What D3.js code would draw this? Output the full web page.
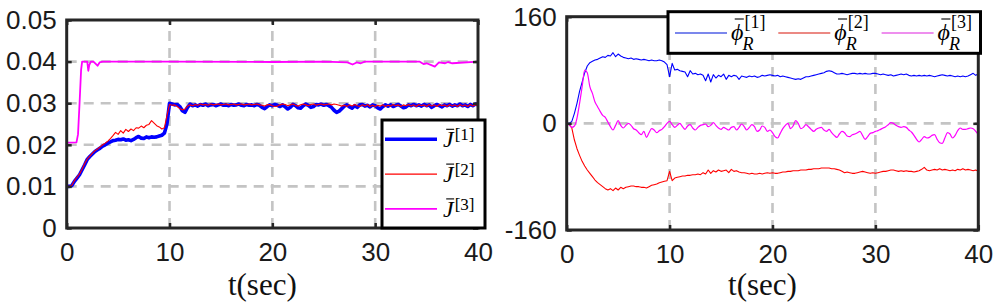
<!DOCTYPE html>
<html>
<head>
<meta charset="utf-8">
<script src="https://cdn.jsdelivr.net/npm/d3@7"></script>
<style>
html, body { margin: 0; padding: 0; background: #fff; }
svg { display: block; }
</style>
</head>
<body>
<svg id="chart" width="997" height="303"></svg>
<script>
// ---- data ----
var xTicks = [0, 10, 20, 30, 40];
var jTicks = [0, 0.01, 0.02, 0.03, 0.04, 0.05];
var phiTicks = [-160, 0, 160];
var seriesIdx = ["1", "2", "3"];
var duration = 40; // sec, uniform series below are sampled every 0.25 s

var J1 = [
    0.0100,0.0100,0.0102,0.0112,0.0120,0.0128,0.0140,0.0152,
    0.0165,0.0172,0.0178,0.0184,0.0188,0.0192,0.0197,0.0200,
    0.0204,0.0207,0.0210,0.0211,0.0213,0.0212,0.0214,0.0211,
    0.0212,0.0210,0.0213,0.0217,0.0220,0.0216,0.0215,0.0219,
    0.0217,0.0219,0.0218,0.0219,0.0221,0.0223,0.0228,0.0250,
    0.0300,0.0298,0.0296,0.0297,0.0292,0.0282,0.0278,0.0290,
    0.0298,0.0294,0.0296,0.0293,0.0297,0.0295,0.0298,0.0294,
    0.0296,0.0297,0.0294,0.0296,0.0298,0.0295,0.0296,0.0294,
    0.0297,0.0295,0.0296,0.0298,0.0295,0.0294,0.0297,0.0295,
    0.0296,0.0294,0.0297,0.0295,0.0290,0.0287,0.0292,0.0296,
    0.0294,0.0297,0.0295,0.0292,0.0296,0.0291,0.0286,0.0290,
    0.0297,0.0294,0.0289,0.0288,0.0294,0.0298,0.0295,0.0290,
    0.0292,0.0297,0.0296,0.0298,0.0295,0.0297,0.0294,0.0290,
    0.0283,0.0278,0.0281,0.0287,0.0293,0.0296,0.0291,0.0288,
    0.0294,0.0290,0.0296,0.0297,0.0293,0.0295,0.0291,0.0296,
    0.0294,0.0289,0.0286,0.0292,0.0296,0.0293,0.0296,0.0292,
    0.0295,0.0297,0.0293,0.0289,0.0291,0.0296,0.0294,0.0297,
    0.0294,0.0296,0.0293,0.0297,0.0294,0.0296,0.0290,0.0294,
    0.0297,0.0294,0.0291,0.0296,0.0294,0.0297,0.0293,0.0296,
    0.0294,0.0298,0.0294,0.0296,0.0292,0.0297,0.0294,0.0298,
    0.0296
];
var J2 = [
    0.0100,0.0100,0.0103,0.0114,0.0122,0.0130,0.0142,0.0155,
    0.0166,0.0173,0.0180,0.0186,0.0190,0.0195,0.0200,0.0204,
    0.0209,0.0215,0.0222,0.0230,0.0225,0.0234,0.0228,0.0237,
    0.0232,0.0238,0.0234,0.0241,0.0240,0.0245,0.0241,0.0247,
    0.0249,0.0258,0.0252,0.0246,0.0243,0.0238,0.0241,0.0270,
    0.0297,0.0295,0.0296,0.0292,0.0287,0.0284,0.0286,0.0293,
    0.0296,0.0294,0.0297,0.0295,0.0298,0.0296,0.0297,0.0295,
    0.0298,0.0296,0.0297,0.0298,0.0296,0.0297,0.0298,0.0296,
    0.0297,0.0298,0.0296,0.0297,0.0298,0.0296,0.0297,0.0298,
    0.0296,0.0297,0.0298,0.0296,0.0295,0.0293,0.0296,0.0297,
    0.0294,0.0292,0.0293,0.0296,0.0298,0.0297,0.0294,0.0296,
    0.0298,0.0295,0.0293,0.0296,0.0298,0.0296,0.0294,0.0297,
    0.0298,0.0295,0.0297,0.0298,0.0296,0.0297,0.0298,0.0296,
    0.0298,0.0297,0.0295,0.0293,0.0295,0.0292,0.0296,0.0293,
    0.0297,0.0294,0.0292,0.0296,0.0293,0.0297,0.0292,0.0295,
    0.0292,0.0295,0.0293,0.0296,0.0292,0.0295,0.0293,0.0297,
    0.0294,0.0296,0.0292,0.0296,0.0294,0.0297,0.0293,0.0296,
    0.0292,0.0297,0.0294,0.0296,0.0292,0.0297,0.0293,0.0296,
    0.0292,0.0297,0.0294,0.0296,0.0292,0.0297,0.0293,0.0296,
    0.0292,0.0297,0.0293,0.0296,0.0292,0.0297,0.0293,0.0296,
    0.0293
];
var tJ3 = [0, 0.95, 1.1, 1.25, 1.4, 1.5, 2.0, 2.1, 2.2, 2.35, 2.6, 2.85, 3.0, 3.2, 3.5, 10, 20, 25, 27.3, 27.8, 28.2, 28.6, 29, 34.3, 34.7, 35.0, 35.4, 35.8, 36.2, 36.8, 37.1, 37.5, 40];
var J3 = [0.0205, 0.0206, 0.0225, 0.030, 0.038, 0.0400, 0.0400, 0.0378, 0.0392, 0.0400, 0.0400, 0.0394, 0.0390, 0.0398, 0.0400, 0.0400, 0.0399, 0.0400, 0.0398, 0.0393, 0.0398, 0.0396, 0.0400, 0.0400, 0.0394, 0.0396, 0.0392, 0.0388, 0.0398, 0.0396, 0.0399, 0.0396, 0.0400];

var phi1 = [
    0,0,3,15,30,48,62,76,
    86,91,93,95,96,98,100,99,
    102,101,106,100,104,101,99,98,
    97,98,96,97,96,95,96,95,
    94,95,94,94,95,94,92,88,
    70,90,80,81,79,78,77,70,
    79,74,75,73,74,72,64,74,
    62,73,68,72,70,74,66,72,
    70,72,71,66,71,70,69,71,
    70,71,69,70,72,71,72,73,
    72,71,72,70,71,70,69,68,
    67,66,67,66,68,70,70,71,
    72,73,74,75,76,78,79,78,
    76,74,74,75,74,73,74,75,
    75,74,75,74,75,74,74,75,
    75,74,73,74,73,72,73,71,
    72,73,74,73,74,72,71,72,
    71,72,71,72,71,72,71,70,
    71,72,73,72,71,72,71,70,
    71,70,71,70,71,73,75,72,
    74
];
var phi2 = [
    0,-2,-7,-25,-38,-48,-57,-64,
    -70,-75,-80,-85,-89,-92,-95,-98,
    -100,-98,-101,-97,-100,-96,-98,-96,
    -95,-94,-94,-95,-95,-96,-96,-97,
    -95,-93,-92,-91,-89,-88,-87,-86,
    -72,-86,-82,-81,-80,-79,-79,-78,
    -78,-77,-77,-76,-77,-74,-76,-70,
    -75,-71,-73,-70,-72,-71,-70,-74,
    -69,-72,-71,-73,-74,-74,-75,-76,
    -75,-76,-76,-75,-76,-75,-74,-75,
    -74,-75,-75,-74,-73,-73,-72,-72,
    -71,-71,-71,-70,-70,-70,-69,-69,
    -68,-68,-68,-67,-67,-67,-67,-68,
    -68,-69,-70,-72,-74,-73,-74,-75,
    -75,-74,-73,-72,-73,-74,-75,-74,
    -75,-74,-73,-72,-72,-71,-70,-70,
    -71,-72,-71,-72,-71,-72,-72,-73,
    -72,-71,-69,-66,-70,-71,-70,-69,
    -70,-68,-70,-69,-70,-71,-70,-71,
    -69,-70,-68,-70,-69,-70,-71,-70,
    -72
];
var phi3 = [
    0,-2,-6,-4,8,30,55,80,
    76,55,45,32,25,18,12,9,
    2,-5,-10,-3,4,-3,-7,-3,
    0,-3,-8,-10,-14,-17,-12,-21,
    -14,-8,-10,-14,-11,-9,-5,0,
    3,-2,-6,-3,0,-5,-9,-4,
    -2,-7,-10,-6,-3,-2,-1,-5,
    -3,1,-3,-7,-9,-6,-8,-10,
    -6,-5,-10,-6,-1,-5,-10,-6,
    -2,-5,-12,-10,-4,-6,-12,-10,
    -14,-20,-22,-15,-8,-3,0,-8,
    -4,4,0,-8,-6,-2,-5,-9,
    -12,-9,-7,-6,-10,-12,-9,-14,
    -18,-21,-16,-12,-14,-19,-20,-17,
    -16,-14,-12,-18,-24,-20,-15,-14,
    -12,-11,-9,-7,-5,-2,1,0,
    -3,-5,-6,-5,-6,-10,-13,-18,
    -24,-28,-24,-20,-22,-21,-18,-17,
    -24,-29,-30,-22,-14,-16,-22,-18,
    -11,-7,-9,-9,-8,-7,-8,-12,
    -17
];

// ---- drawing ----
var SERIF = "'Liberation Serif'";
var SANS = "'Liberation Sans'";
var AXIS_COLOR = "#262626";
var svg = d3.select("#chart");

function uniformTimes(values) {
    var step = duration / (values.length - 1);
    return values.map(function (v, i) { return i * step; });
}

var Panel = function (params) {
    this.id = params.id;
    this.left = params.left;
    this.top = params.top;
    this.width = params.width;
    this.height = params.height;
    this.x = d3.scaleLinear().domain([0, duration]).range([this.left, this.left + this.width]);
    this.y = d3.scaleLinear().domain(params.yDomain).range([this.top + this.height, this.top]);
    this.g = svg.append("g");
    this.g.append("clipPath").attr("id", "clip-" + this.id)
        .append("rect")
        .attr("x", this.left).attr("y", this.top)
        .attr("width", this.width).attr("height", this.height);
};

Panel.prototype.drawGrid = function (xGrid, yGrid) {
    var self = this;
    var grid = this.g.append("g")
        .attr("stroke", "#c4c4c4")
        .attr("stroke-width", 2.6)
        .attr("stroke-dasharray", "10,7");
    grid.selectAll("line.gx").data(xGrid).enter().append("line")
        .attr("x1", function (d) { return self.x(d); })
        .attr("x2", function (d) { return self.x(d); })
        .attr("y1", this.top + this.height)
        .attr("y2", this.top);
    grid.selectAll("line.gy").data(yGrid).enter().append("line")
        .attr("x1", this.left)
        .attr("x2", this.left + this.width)
        .attr("y1", function (d) { return self.y(d); })
        .attr("y2", function (d) { return self.y(d); });
};

Panel.prototype.drawSeries = function (times, values, color, width, smooth) {
    var self = this;
    var pts = values.map(function (v, i) { return [times[i], v]; });
    var line = d3.line()
        .x(function (d) { return self.x(d[0]); })
        .y(function (d) { return self.y(d[1]); })
        .curve(smooth ? d3.curveMonotoneX : d3.curveLinear);
    this.g.append("path")
        .datum(pts)
        .attr("clip-path", "url(#clip-" + this.id + ")")
        .attr("d", line)
        .attr("fill", "none")
        .attr("stroke", color)
        .attr("stroke-width", width)
        .attr("stroke-linejoin", "round");
};

Panel.prototype.drawAxes = function (yTicks, yFormat) {
    var b = this.top + this.height, r = this.left + this.width;
    this.g.append("g").attr("transform", "translate(0," + b + ")")
        .call(d3.axisBottom(this.x).tickValues(xTicks).tickSize(-5).tickPadding(15).tickFormat(d3.format("d")));
    this.g.append("g").attr("transform", "translate(0," + this.top + ")")
        .call(d3.axisTop(this.x).tickValues(xTicks).tickSize(-5).tickFormat(""));
    this.g.append("g").attr("transform", "translate(" + this.left + ",0)")
        .call(d3.axisLeft(this.y).tickValues(yTicks).tickSize(-5).tickPadding(10).tickFormat(yFormat));
    this.g.append("g").attr("transform", "translate(" + r + ",0)")
        .call(d3.axisRight(this.y).tickValues(yTicks).tickSize(-5).tickFormat(""));
    this.g.selectAll(".domain").remove();
    this.g.selectAll(".tick line").attr("stroke", AXIS_COLOR).attr("stroke-width", 2.5);
    this.g.selectAll(".tick text")
        .style("font-family", SANS)
        .style("font-size", "26px")
        .attr("fill", "#1a1a1a");
    this.g.append("rect")
        .attr("x", this.left).attr("y", this.top)
        .attr("width", this.width).attr("height", this.height)
        .attr("fill", "none")
        .attr("stroke", AXIS_COLOR)
        .attr("stroke-width", 3);
    this.g.append("text")
        .attr("x", this.left + this.width / 2 - 10)
        .attr("y", 295)
        .attr("text-anchor", "middle")
        .style("font-family", SERIF)
        .style("font-size", "31px")
        .attr("fill", "#111")
        .text("t(sec)");
};

// barred italic symbol with [k] superscript and optional subscript
function barredSymbol(g, x, y, base, fs, barRaise, sup, sub) {
    var t = g.append("text")
        .attr("x", x).attr("y", y)
        .style("font-family", SERIF)
        .style("font-style", "italic")
        .style("font-size", fs + "px").text(base);
    var w = t.node().getComputedTextLength();
    g.append("line")
        .attr("x1", x + w * 0.3).attr("x2", x + w * 0.95 + 1)
        .attr("y1", y - barRaise).attr("y2", y - barRaise)
        .attr("stroke", "#000").attr("stroke-width", 1.1);
    g.append("text")
        .attr("x", x + w + 1).attr("y", sub ? y - 12 : y - 7)
        .style("font-family", SERIF)
        .style("font-size", (sub ? 18 : 17) + "px")
        .text("[" + sup + "]");
    if (sub) {
        g.append("text")
            .attr("x", x + w - 1).attr("y", y + 10)
            .style("font-family", SERIF)
            .style("font-style", "italic")
            .style("font-size", "18px").text(sub);
    }
}

var jColors = ["#0000ff", "#ff0000", "#ff00ff"];
var jWidths = [3.6, 1.1, 1.8];

// left panel
var left = new Panel({id: "j", left: 66.7, top: 20, width: 411.3, height: 208, yDomain: [0, 0.05]});
left.drawGrid([10, 20, 30], [0.01, 0.02, 0.03, 0.04]);
left.drawSeries(uniformTimes(J1), J1, jColors[0], jWidths[0]);
left.drawSeries(uniformTimes(J2), J2, jColors[1], jWidths[1]);
left.drawSeries(tJ3, J3, jColors[2], jWidths[2]);
left.drawAxes(jTicks, function (d) { return d === 0 ? "0" : d3.format(".2f")(d); });

var legL = svg.append("g");
legL.append("rect").attr("x", 382).attr("y", 120).attr("width", 103).attr("height", 108)
    .attr("fill", "#fff").attr("stroke", "#000").attr("stroke-width", 3);
seriesIdx.forEach(function (k, i) {
    var ly = 139.3 + i * 34.8;
    legL.append("line").attr("x1", 385).attr("x2", 437).attr("y1", ly).attr("y2", ly)
        .attr("stroke", jColors[i]).attr("stroke-width", jWidths[i]);
    barredSymbol(legL, 443, ly + 8, "J", 24, 18, k, null);
});

// right panel
var right = new Panel({id: "phi", left: 566.7, top: 16.7, width: 411.6, height: 213.3, yDomain: [-160, 160]});
right.drawGrid([10, 20, 30], [0]);
right.drawSeries(uniformTimes(phi1), phi1, "#0000ff", 1.1);
right.drawSeries(uniformTimes(phi2), phi2, "#ff0000", 1.1);
right.drawSeries(uniformTimes(phi3), phi3, "#ff00ff", 1.2, true);
right.drawAxes(phiTicks, function (d) { return String(d); });

var legR = svg.append("g");
legR.append("rect").attr("x", 668).attr("y", 11.7).attr("width", 312.5).attr("height", 41.6)
    .attr("fill", "#fff").attr("stroke", "#000").attr("stroke-width", 3);
var phiColors = ["#4f5fe6", "#e5625a", "#e96ae9"];
seriesIdx.forEach(function (k, i) {
    var lx = 675 + i * 103.3;
    legR.append("line").attr("x1", lx).attr("x2", lx + 52).attr("y1", 33).attr("y2", 33)
        .attr("stroke", phiColors[i]).attr("stroke-width", 1.4);
    barredSymbol(legR, lx + 56, 40, "\u03D5", 24, 21, k, "R");
});
</script>
</body>
</html>
